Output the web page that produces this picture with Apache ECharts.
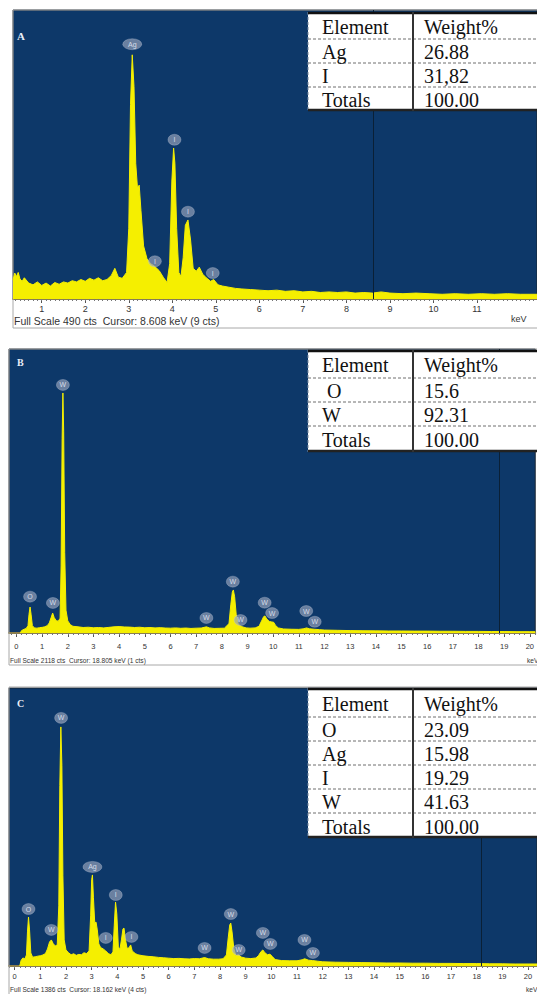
<!DOCTYPE html>
<html><head><meta charset="utf-8">
<script src="https://cdn.jsdelivr.net/npm/echarts/dist/echarts.min.js"></script>
<style>html,body{margin:0;padding:0;background:#fff;}#c{width:537px;height:994px;}</style>
</head><body><div id="c"></div>
<script>
// ---------- Panel A (Ag, I) ----------
const ticksA = [1,2,3,4,5,6,7,8,9,10,11];
const spectrumA = [[0.34,32],[0.38,44],[0.42,38],[0.46,45],[0.5,34],[0.55,30],[0.6,36],[0.7,27],[0.8,24],[0.9,29],[1.0,23],[1.1,27],[1.2,22],[1.3,28],[1.4,25],[1.5,29],[1.6,27],[1.7,31],[1.8,29],[1.9,33],[2.0,30],[2.1,35],[2.2,32],[2.3,36],[2.4,31],[2.5,33],[2.6,40],[2.68,52],[2.76,37],[2.85,35],[2.95,45],[3.0,120],[3.04,330],[3.08,414],[3.12,360],[3.16,230],[3.2,188],[3.24,193],[3.28,150],[3.34,90],[3.42,68],[3.5,60],[3.6,55],[3.7,48],[3.8,36],[3.88,28],[3.94,60],[3.99,200],[4.03,256],[4.06,230],[4.1,120],[4.15,45],[4.2,38],[4.25,70],[4.3,125],[4.36,134],[4.42,100],[4.48,52],[4.55,47],[4.62,54],[4.7,42],[4.78,36],[4.88,30],[4.95,33],[5.05,24],[5.15,22],[5.3,20],[5.45,18],[5.6,17],[5.8,16],[6.0,15],[6.2,14],[6.4,15],[6.6,13],[6.8,14],[7.0,12],[7.2,13],[7.4,11],[7.6,12],[7.8,11],[8.0,12],[8.2,10],[8.4,11],[8.6,10],[8.8,12],[9.0,10],[9.3,9],[9.6,10],[9.9,9],[10.2,8],[10.5,9],[10.8,8],[11.1,9],[11.4,8],[11.7,9],[12.0,8],[12.38,8]];
const peakLabelsA = [[3.08,432,'Ag'],[4.05,270,'I'],[4.36,148,'I'],[3.6,64,'I'],[4.93,44,'I']];
const elementsA = ['Element','Ag','I','Totals'];
const weightsA = ['Weight%','26.88','31,82','100.00'];

// ---------- Panel B (O, W) ----------
const ticksB = [0,1,2,3,4,5,6,7,8,9,10,11,12,13,14,15,16,17,18,19,20];
const spectrumB = [[0.15,0],[0.2,18],[0.3,28],[0.38,34],[0.45,55],[0.49,140],[0.53,194],[0.57,140],[0.62,55],[0.7,38],[0.8,36],[0.9,40],[1.0,42],[1.1,46],[1.2,55],[1.28,75],[1.35,115],[1.41,149],[1.47,115],[1.55,92],[1.63,88],[1.7,110],[1.74,500],[1.78,1450],[1.81,1790],[1.84,1500],[1.88,600],[1.93,170],[2.0,90],[2.1,62],[2.2,50],[2.4,46],[2.6,41],[2.8,43],[3.0,39],[3.2,41],[3.4,38],[3.6,42],[3.8,46],[4.0,48],[4.2,45],[4.4,44],[4.6,41],[4.8,43],[5.0,39],[5.2,41],[5.4,38],[5.6,40],[5.8,37],[6.0,36],[6.2,38],[6.4,35],[6.6,37],[6.8,34],[7.0,36],[7.2,37],[7.4,46],[7.52,38],[7.7,34],[7.9,35],[8.1,36],[8.28,70],[8.35,210],[8.41,305],[8.45,321],[8.5,270],[8.56,140],[8.64,65],[8.72,55],[8.82,45],[8.95,38],[9.1,36],[9.3,38],[9.45,50],[9.55,90],[9.63,122],[9.68,127],[9.75,105],[9.85,86],[9.95,82],[10.02,80],[10.1,55],[10.2,38],[10.4,30],[10.7,28],[11.0,27],[11.2,32],[11.3,38],[11.42,31],[11.6,28],[11.8,25],[12.0,22],[12.5,20],[13.0,18],[13.5,17],[14.0,16],[14.5,15],[15.0,15],[15.5,14],[16.0,14],[16.5,13],[17.0,13],[17.5,12],[18.0,12],[18.5,11],[19.0,11],[19.5,10],[20.0,10],[20.21,10]];
const peakLabelsB = [[1.81,1850,'W'],[0.53,271,'O'],[1.42,224,'W'],[7.4,112,'W'],[8.43,383,'W'],[8.73,97,'W'],[9.67,226,'W'],[9.96,149,'W'],[11.29,164,'W'],[11.62,84,'W']];
const elementsB = ['Element',' O','W','Totals'];
const weightsB = ['Weight%','15.6','92.31','100.00'];

// ---------- Panel C (O, Ag, I, W) ----------
const ticksC = [0,1,2,3,4,5,6,7,8,9,10,11,12,13,14,15,16,17,18,19,20];
const spectrumC = [[0.2,0],[0.25,28],[0.32,40],[0.4,36],[0.46,55],[0.5,170],[0.54,244],[0.58,180],[0.63,65],[0.7,44],[0.8,46],[0.9,49],[1.0,51],[1.1,55],[1.2,62],[1.28,85],[1.36,120],[1.43,130],[1.5,112],[1.58,100],[1.66,105],[1.72,300],[1.76,900],[1.8,1192],[1.84,1000],[1.88,450],[1.93,130],[2.0,80],[2.1,66],[2.2,56],[2.3,61],[2.4,53],[2.5,58],[2.6,56],[2.7,66],[2.8,62],[2.9,75],[2.96,250],[3.0,430],[3.03,454],[3.07,340],[3.12,215],[3.17,219],[3.22,180],[3.28,110],[3.35,92],[3.45,85],[3.55,75],[3.65,62],[3.75,56],[3.83,70],[3.88,200],[3.93,319],[3.98,260],[4.04,95],[4.1,82],[4.16,130],[4.22,185],[4.26,189],[4.32,130],[4.38,88],[4.45,90],[4.52,105],[4.58,75],[4.7,62],[4.8,56],[5.0,51],[5.2,48],[5.4,46],[5.6,43],[5.8,41],[6.0,39],[6.2,37],[6.4,38],[6.6,36],[6.8,35],[7.0,37],[7.2,36],[7.4,42],[7.55,36],[7.75,34],[7.95,34],[8.12,36],[8.25,55],[8.32,140],[8.38,205],[8.42,214],[8.47,170],[8.54,85],[8.62,52],[8.72,56],[8.82,45],[9.0,39],[9.2,37],[9.4,40],[9.5,52],[9.6,72],[9.67,80],[9.75,66],[9.85,56],[9.95,59],[10.03,48],[10.15,32],[10.4,27],[10.7,26],[11.0,26],[11.2,31],[11.3,36],[11.45,29],[11.6,27],[11.8,24],[12.0,21],[12.5,19],[13.0,18],[13.5,17],[14.0,16],[14.5,15],[15.0,15],[15.5,14],[16.0,14],[16.5,13],[17.0,13],[17.5,12],[18.0,12],[18.5,11],[19.0,11],[19.5,10],[20.0,10],[20.35,10]];
const peakLabelsC = [[1.81,1237,'W'],[0.54,284,'O'],[1.43,180,'W'],[3.03,494,'Ag'],[3.55,140,'I'],[3.94,354,'I'],[4.55,145,'I'],[7.4,90,'W'],[8.42,259,'W'],[8.73,80,'W'],[9.67,165,'W'],[9.96,110,'W'],[11.29,130,'W'],[11.62,65,'W']];
const elementsC = ['Element','O','Ag','I','W','Totals'];
const weightsC = ['Weight%','23.09','15.98','19.29','41.63','100.00'];

// ---------- layout / styles ----------
const BLUE = '#0d3869', YELLOW = '#f5ef00';
const panels = [
  {letter:'A', grid:{left:13,top:10,width:524,height:289}, min:0.34, max:12.38, fs:490, ticks:ticksA, minorStep:0.1,
   spec:spectrumA, labels:peakLabelsA, cursor:8.608, fsz:9, margin:5,
   footer:'Full Scale 490 cts  Cursor: 8.608 keV (9 cts)', footY:321, footSize:10.5, kevX:511, kevY:319, kevSize:9,
   frame:[13,10,530,318], letterPos:[17,36], letterSize:11,
   table:{rows:[12,39,63,87,111], col1:elementsA, col2:weightsA}},
  {letter:'B', grid:{left:9,top:349,width:528,height:284}, min:-0.29, max:20.21, fs:2118, ticks:ticksB, minorStep:0.2,
   spec:spectrumB, labels:peakLabelsB, cursor:18.805, fsz:7.5, margin:9,
   footer:'Full Scale 2118 cts  Cursor: 18.805 keV (1 cts)', footY:660, footSize:6.6, kevX:527, kevY:660, kevSize:6.6,
   frame:[9,349,534,316], letterPos:[17,362], letterSize:10,
   table:{rows:[350,378,402,426,452], col1:elementsB, col2:weightsB}},
  {letter:'C', grid:{left:9,top:688,width:528,height:278}, min:-0.22, max:20.35, fs:1386, ticks:ticksC, minorStep:0.2,
   spec:spectrumC, labels:peakLabelsC, cursor:18.162, fsz:7.5, margin:6,
   footer:'Full Scale 1386 cts  Cursor: 18.162 keV (4 cts)', footY:989, footSize:6.6, kevX:526, kevY:989, kevSize:6.6,
   frame:[9,687,534,310], letterPos:[17,703], letterSize:10,
   table:{rows:[688,717,741,765,789,813,838], col1:elementsC, col2:weightsC}}
];

function minorTicks(min, max, step) {
  const out = [];
  for (let v = Math.ceil(min / step) * step; v <= max + 1e-9; v += step) out.push(Math.round(v * 100) / 100);
  return out;
}

const ellipse = 'path://M0,6 A10,6 0 1,1 20,6 A10,6 0 1,1 0,6 Z';
const grids = [], xAxes = [], yAxes = [], series = [], graphics = [];

panels.forEach((p, i) => {
  grids.push(Object.assign({show:true, backgroundColor:BLUE, borderColor:'#1b2633', borderWidth:1, containLabel:false}, p.grid));
  xAxes.push({gridIndex:i, type:'value', min:p.min, max:p.max, position:'bottom',
    axisLine:{show:true, onZero:false, lineStyle:{color:'#8d7f4a', width:2}},
    axisTick:{show:true, customValues:p.ticks, length:4, lineStyle:{color:'#555', width:1}},
    axisLabel:{show:true, customValues:p.ticks, fontSize:p.fsz, color:'#333', margin:p.margin, fontFamily:'Arial'},
    splitLine:{show:false}});
  xAxes.push({gridIndex:i, type:'value', min:p.min, max:p.max, position:'bottom', offset:0,
    axisLine:{show:false},
    axisTick:{show:true, customValues:minorTicks(p.min, p.max, p.minorStep), length:2, lineStyle:{color:'#777', width:1}},
    axisLabel:{show:false}, splitLine:{show:false}});
  yAxes.push({gridIndex:i, type:'value', min:0, max:p.fs, show:false, splitLine:{show:false}});
  series.push({type:'line', xAxisIndex:2*i, yAxisIndex:i, data:p.spec, symbol:'none', smooth:false, z:3,
    lineStyle:{color:YELLOW, width:1}, areaStyle:{color:YELLOW, opacity:1},
    markLine:{silent:true, symbol:'none', label:{show:false}, animation:false,
      lineStyle:{color:'#0a2036', width:1, type:'solid'}, data:[{xAxis:p.cursor}]}});
  series.push({type:'scatter', xAxisIndex:2*i, yAxisIndex:i, data:p.labels, z:5,
    symbol:ellipse, symbolSize:(v) => v[2].length > 1 ? [19,11] : [13,11],
    itemStyle:{color:'rgba(150,162,185,0.85)', borderColor:'rgba(210,215,230,0.7)', borderWidth:0.5},
    label:{show:true, position:'inside', formatter:(q) => q.value[2], fontSize:7, color:'#eef2ff', fontFamily:'Arial'}});

  // panel frame, letter, footer
  graphics.push({type:'rect', shape:{x:p.frame[0], y:p.frame[1], width:p.frame[2], height:p.frame[3]}, style:{fill:'none', stroke:'#a8a8a8', lineWidth:1}, z:1});
  graphics.push({type:'text', x:p.letterPos[0], y:p.letterPos[1], style:{text:p.letter, font:'bold ' + p.letterSize + 'px "Liberation Serif"', fill:'#e8eef8', verticalAlign:'middle'}, z:50});
  graphics.push({type:'text', x:p.frame[0] + 1, y:p.footY, style:{text:p.footer, font:p.footSize + 'px Arial', fill:'#333', verticalAlign:'middle'}, z:50});
  graphics.push({type:'text', x:p.kevX, y:p.kevY, style:{text:'keV', font:p.kevSize + 'px Arial', fill:'#333', verticalAlign:'middle'}, z:50});

  // table
  const t = p.table, x0 = 308, x1 = 545, xd = 413, top = t.rows[0], bot = t.rows[t.rows.length - 1];
  graphics.push({type:'rect', shape:{x:x0, y:top, width:x1 - x0, height:bot - top}, style:{fill:'#ffffff', stroke:null}, z:100});
  for (let r = 1; r < t.rows.length - 1; r++) {
    graphics.push({type:'line', shape:{x1:x0, y1:t.rows[r], x2:x1, y2:t.rows[r]}, style:{stroke:'#6e6e6e', lineWidth:1, lineDash:[3,2]}, z:101});
  }
  graphics.push({type:'line', shape:{x1:x0, y1:top, x2:x0, y2:bot}, style:{stroke:'#7a8aa0', lineWidth:1, lineDash:[3,2]}, z:101});
  graphics.push({type:'line', shape:{x1:x0, y1:top + 1, x2:x1, y2:top + 1}, style:{stroke:'#111', lineWidth:2.5}, z:102});
  graphics.push({type:'line', shape:{x1:x0, y1:bot - 1, x2:x1, y2:bot - 1}, style:{stroke:'#222', lineWidth:2.5}, z:102});
  graphics.push({type:'line', shape:{x1:xd, y1:top, x2:xd, y2:bot}, style:{stroke:'#333', lineWidth:2}, z:102});
  for (let r = 0; r < t.col1.length; r++) {
    const cy = (t.rows[r] + t.rows[r + 1]) / 2 + 1;
    graphics.push({type:'text', x:322, y:cy, style:{text:t.col1[r], font:'20px "Liberation Serif"', fill:'#111', verticalAlign:'middle'}, z:103});
    graphics.push({type:'text', x:424, y:cy, style:{text:t.col2[r], font:'20px "Liberation Serif"', fill:'#111', verticalAlign:'middle'}, z:103});
  }
});

const chart = echarts.init(document.getElementById('c'), null, {renderer:'svg', width:537, height:994});
chart.setOption({animation:false, backgroundColor:'#ffffff', grid:grids, xAxis:xAxes, yAxis:yAxes, series:series, graphic:graphics});
</script>
</body></html>
